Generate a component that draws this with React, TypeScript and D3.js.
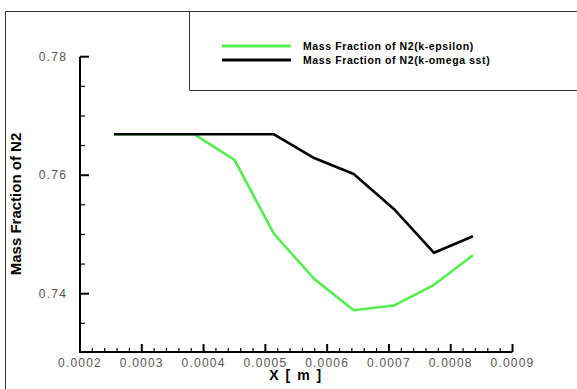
import { useEffect, useRef } from 'react'
import * as d3 from 'd3'

const xVals = [0.000255, 0.00032, 0.000385, 0.00045, 0.000514, 0.000579, 0.000643, 0.000708, 0.000773, 0.000836]
const kEpsilon = [0.7669, 0.7669, 0.7669, 0.7626, 0.7501, 0.7425, 0.7372, 0.738, 0.7415, 0.7465]
const kOmegaSst = [0.7669, 0.7669, 0.7669, 0.7669, 0.7669, 0.7629, 0.7602, 0.7543, 0.7469, 0.7497]
const xTicks = [0.0002, 0.0003, 0.0004, 0.0005, 0.0006, 0.0007, 0.0008, 0.0009]
const yTicks = [0.74, 0.76, 0.78]
const seriesNames = ['Mass Fraction of N2(k-epsilon)', 'Mass Fraction of N2(k-omega sst)']
const seriesColors = ['#55ee4f', '#000000']

export default function App() {
  const ref = useRef<SVGSVGElement>(null)

  useEffect(() => {
    const svg = d3.select(ref.current!)
    svg.selectAll('*').remove()
    const W = 577, H = 389
    const x = d3.scaleLinear().domain([0.0002, 0.0009]).range([80, 512.5])
    const y = d3.scaleLinear().domain([0.74, 0.76]).range([293.7, 175.2])
    const yBot = 352, yTop = y(0.78)
    const font = 'Arial, "Liberation Sans", sans-serif'

    // frame
    svg.append('path').attr('d', `M5.5,${H}V11.5H${W}`).attr('fill', 'none').attr('stroke', '#333').attr('stroke-width', 1)

    // legend box
    svg.append('path').attr('d', `M189.5,11V90.5H${W}`).attr('fill', 'none').attr('stroke', '#333').attr('stroke-width', 1)
    seriesNames.forEach((name, i) => {
      const ly = 46 + i * 14
      svg.append('line').attr('x1', 222).attr('x2', 291).attr('y1', ly).attr('y2', ly)
        .attr('stroke', seriesColors[i]).attr('stroke-width', 3)
      svg.append('text').attr('x', 303).attr('y', ly + 3.5).text(name)
        .attr('font-family', font).attr('font-size', 10.5).attr('font-weight', 'bold')
        .attr('letter-spacing', 0.6).attr('fill', '#000')
    })

    // axes
    const g = svg.append('g')
    g.append('path').attr('d', `M80,${yTop}V${yBot}H${x(0.0009)}`).attr('fill', 'none').attr('stroke', '#000').attr('stroke-width', 2)

    d3.range(0, 36).forEach(i => {
      const v = 0.0002 + i * 0.00002
      const major = i % 5 === 0
      const px = x(v)
      g.append('line').attr('x1', px).attr('x2', px).attr('y1', yBot).attr('y2', yBot - (major ? 8 : 4))
        .attr('stroke', '#000').attr('stroke-width', major ? 2 : 1.2)
    })
    xTicks.forEach(v => {
      g.append('text').attr('x', x(v)).attr('y', yBot + 15).attr('text-anchor', 'middle')
        .attr('font-family', font).attr('font-size', 12).attr('fill', '#555').attr('letter-spacing', 1.2)
        .text(v.toFixed(4))
    })

    d3.range(0, 11).forEach(i => {
      const v = 0.78 - i * 0.005
      const major = i % 4 === 0
      const py = y(v)
      if (py > yBot - 1) return
      g.append('line').attr('x1', 80).attr('x2', 80 + (major ? 9 : 5)).attr('y1', py).attr('y2', py)
        .attr('stroke', '#000').attr('stroke-width', major ? 2 : 1.2)
    })
    yTicks.forEach(v => {
      g.append('text').attr('x', 67).attr('y', y(v) + 4).attr('text-anchor', 'end')
        .attr('font-family', font).attr('font-size', 12).attr('fill', '#555').attr('letter-spacing', 1.2)
        .text(v.toFixed(2))
    })

    // titles
    svg.append('text').attr('x', 296).attr('y', 380).attr('text-anchor', 'middle')
      .attr('font-family', font).attr('font-size', 14).attr('font-weight', 'bold').attr('letter-spacing', 1.5)
      .text('X [ m ]')
    svg.append('text').attr('transform', 'translate(21,204) rotate(-90)').attr('text-anchor', 'middle')
      .attr('font-family', font).attr('font-size', 15).attr('font-weight', 'bold')
      .text('Mass Fraction of N2')

    // lines
    const line = d3.line<number>().x((_, i) => x(xVals[i])).y(d => y(d))
    ;[kEpsilon, kOmegaSst].forEach((s, i) => {
      svg.append('path').datum(s).attr('d', line).attr('fill', 'none')
        .attr('stroke', seriesColors[i]).attr('stroke-width', 2.6).attr('stroke-linejoin', 'round')
    })
  }, [])

  return (
    <svg ref={ref} width={577} height={389}
      style={{ position: 'absolute', left: 0, top: 0, background: '#fff' }} />
  )
}
